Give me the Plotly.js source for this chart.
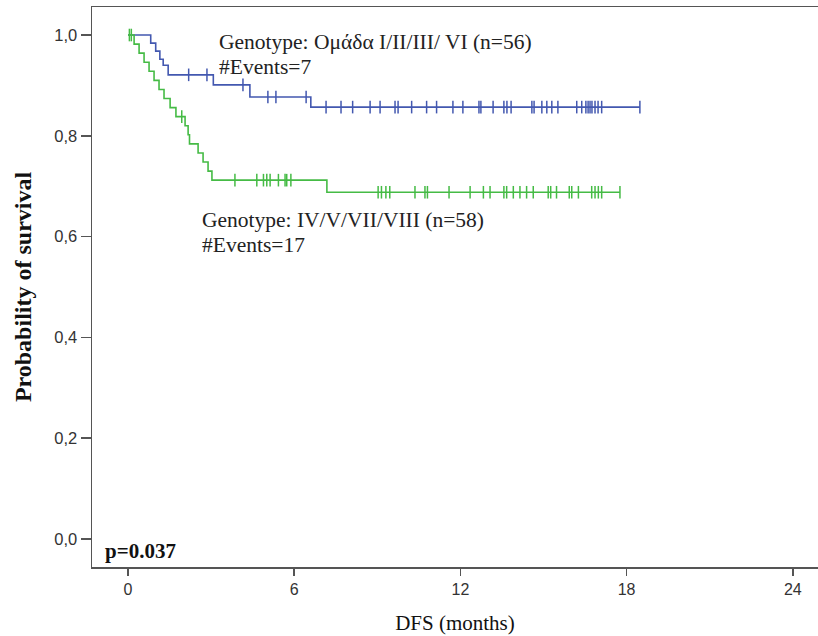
<!DOCTYPE html>
<html>
<head>
<meta charset="utf-8">
<script src="https://cdn.plot.ly/plotly-3.0.1.min.js"></script>
<style>html,body{margin:0;padding:0;background:#fff;}#chart{width:818px;height:636px;}</style>
</head>
<body>
<div id="chart"></div>
<script>
// Group I/II/III/VI (blue): KM step points (time in months, survival)
const blueTimes = [0, 0.82, 1.0, 1.15, 1.27, 1.45, 3.08, 4.4, 6.6, 18.48];
const blueSurv  = [1.0, 0.984, 0.968, 0.952, 0.94, 0.921, 0.901, 0.877, 0.857, 0.857];
const blueCensor = [2.19, 2.85, 4.15, 5.05, 5.34, 6.43, 7.15, 7.69, 8.11, 8.74, 9.10, 9.64, 9.75,
  10.24, 10.78, 11.14, 11.73, 12.09, 12.67, 12.74, 13.18, 13.57, 13.68, 13.83, 14.58, 14.66,
  14.94, 15.12, 15.30, 15.52, 16.20, 16.38, 16.53, 16.61, 16.68, 16.75, 16.86, 16.97, 17.10, 18.48];

// Group IV/V/VII/VIII (green)
const greenTimes = [0, 0.22, 0.40, 0.58, 0.76, 0.94, 1.12, 1.30, 1.52, 1.73, 2.06, 2.17, 2.22,
  2.53, 2.71, 2.89, 3.03, 7.18, 17.76];
const greenSurv = [1.0, 0.982, 0.964, 0.946, 0.928, 0.910, 0.892, 0.874, 0.856, 0.838, 0.820,
  0.802, 0.784, 0.766, 0.748, 0.730, 0.712, 0.688, 0.688];
const greenCensor = [0.05, 0.12, 1.94, 3.86, 4.65, 4.89, 5.01, 5.13, 5.43, 5.67, 5.73, 5.88,
  9.03, 9.15, 9.31, 9.45, 10.36, 10.72, 10.81, 11.59, 12.35, 12.83, 13.07, 13.57, 13.67, 13.91,
  14.15, 14.39, 14.63, 15.17, 15.26, 15.47, 15.93, 16.02, 16.26, 16.74, 16.86, 16.98, 17.10, 17.76];

const xTicks = [0, 6, 12, 18, 24];
const yTicks = [0, 0.2, 0.4, 0.6, 0.8, 1.0];
const yTickText = ['0,0', '0,2', '0,4', '0,6', '0,8', '1,0'];

const BLUE = '#4358b0';
const GREEN = '#45bb45';

function survAt(times, surv, t) {
  let s = surv[0];
  for (let i = 0; i < times.length; i++) { if (times[i] <= t) s = surv[i]; }
  return s;
}

const traces = [
  {x: blueTimes, y: blueSurv, mode: 'lines', line: {color: BLUE, width: 1.6, shape: 'hv'}, hoverinfo: 'skip'},
  {x: blueCensor, y: blueCensor.map(t => survAt(blueTimes, blueSurv, t)), mode: 'markers',
   marker: {symbol: 'line-ns-open', size: 9, color: BLUE, line: {color: BLUE, width: 1.5}}},
  {x: greenTimes, y: greenSurv, mode: 'lines', line: {color: GREEN, width: 1.6, shape: 'hv'}, hoverinfo: 'skip'},
  {x: greenCensor, y: greenCensor.map(t => survAt(greenTimes, greenSurv, t)), mode: 'markers',
   marker: {symbol: 'line-ns-open', size: 9, color: GREEN, line: {color: GREEN, width: 1.5}}}
];

const serif = 'Liberation Serif, Times New Roman, serif';
const sans = 'Liberation Sans, Arial, sans-serif';
const layout = {
  width: 818, height: 636,
  margin: {l: 92, r: 0, t: 7, b: 69},
  paper_bgcolor: '#fff', plot_bgcolor: '#fff',
  showlegend: false,
  xaxis: {
    range: [-1.3, 24.91], tickvals: xTicks, ticktext: xTicks.map(String),
    showgrid: false, zeroline: false, showline: true, mirror: true, linecolor: '#555', linewidth: 1.5,
    ticks: 'outside', ticklen: 7, tickcolor: '#555', tickwidth: 1.5,
    tickfont: {family: sans, size: 16, color: '#333'},
    title: {text: 'DFS (months)', font: {family: serif, size: 21, color: '#111'}, standoff: 18},
    automargin: false
  },
  yaxis: {
    range: [-0.0556, 1.0556], tickvals: yTicks, ticktext: yTickText,
    showgrid: false, zeroline: false, showline: true, linecolor: '#555', linewidth: 1.5,
    ticks: 'outside', ticklen: 10, tickcolor: '#555', tickwidth: 1.5,
    tickfont: {family: sans, size: 16.5, color: '#333'},
    title: {text: '<b>Probability of survival</b>', font: {family: serif, size: 24, color: '#111'}, standoff: 16},
    automargin: false
  },
  annotations: [
    {x: 217, y: 42, text: 'Genotype: Ομάδα I/II/III/ VI (n=56)'},
    {x: 217, y: 67, text: '#Events=7'},
    {x: 200, y: 220, text: 'Genotype: IV/V/VII/VIII (n=58)'},
    {x: 200, y: 245, text: '#Events=17'}
  ].map(a => ({
    x: (a.x - 92) / 726, y: 1 - (a.y - 7) / 560, xref: 'paper', yref: 'paper',
    xanchor: 'left', yanchor: 'middle', showarrow: false, text: a.text,
    font: {family: serif, size: 21.5, color: '#222'}
  })).concat([{
    x: (103 - 92) / 726, y: 1 - (551 - 7) / 560, xref: 'paper', yref: 'paper',
    xanchor: 'left', yanchor: 'middle', showarrow: false, text: '<b>p=0.037</b>',
    font: {family: serif, size: 21, color: '#111'}
  }])
};

Plotly.newPlot('chart', traces, layout, {staticPlot: true, displayModeBar: false});
</script>
</body>
</html>
